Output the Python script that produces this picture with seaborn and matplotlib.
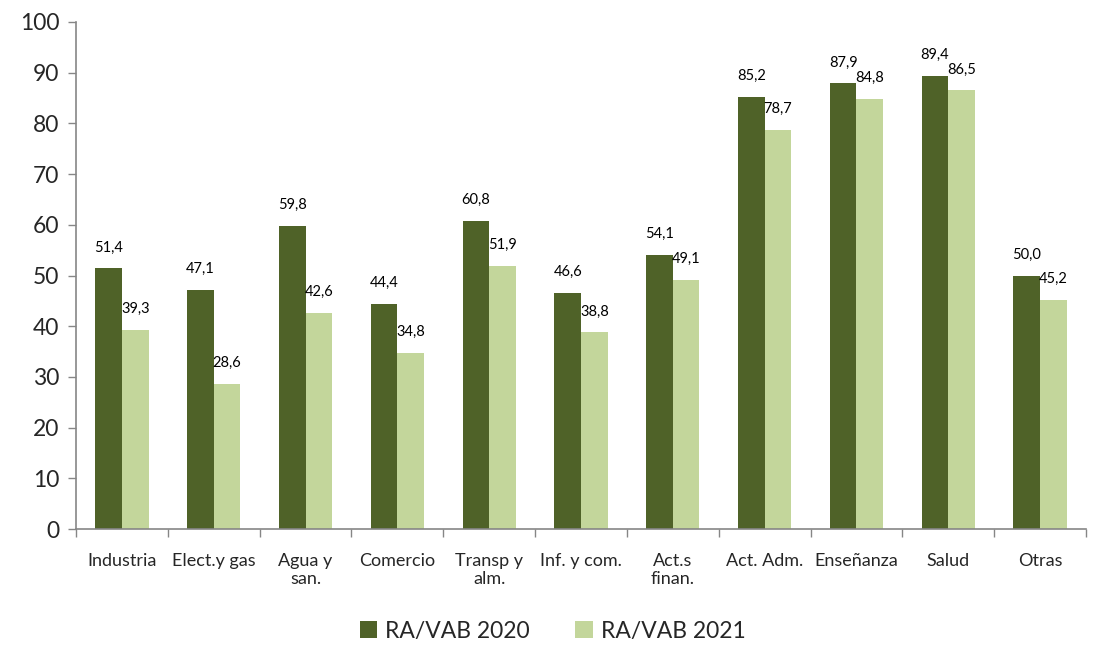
import pandas as pd
import numpy as np
import matplotlib.pyplot as plt
import seaborn as sns

# Sectors and ratios (RA/VAB, %)
sectors = ["Industria", "Elect.y gas", "Agua y\nsan.", "Comercio", "Transp y\nalm.",
           "Inf. y com.", "Act.s\nfinan.", "Act. Adm.", "Enseñanza", "Salud", "Otras"]
ra_vab_2020 = [51.4, 47.1, 59.8, 44.4, 60.8, 46.6, 54.1, 85.2, 87.9, 89.4, 50.0]
ra_vab_2021 = [39.3, 28.6, 42.6, 34.8, 51.9, 38.8, 49.1, 78.7, 84.8, 86.5, 45.2]
series_names = ["RA/VAB 2020", "RA/VAB 2021"]
y_ticks = [0, 10, 20, 30, 40, 50, 60, 70, 80, 90, 100]

df = pd.DataFrame({
    "sector": sectors * 2,
    "serie": [series_names[0]] * len(sectors) + [series_names[1]] * len(sectors),
    "valor": ra_vab_2020 + ra_vab_2021,
})

sns.set_style("white")
plt.rcParams['font.family'] = ['Lato', 'DejaVu Sans']

fig = plt.figure(figsize=(11.05, 6.46), dpi=100)
ax = fig.add_axes([0.0688, 0.181, 0.914, 0.785])

palette = {series_names[0]: "#4F6228", series_names[1]: "#C3D69B"}
sns.barplot(data=df, x="sector", y="valor", hue="serie", palette=palette,
            width=0.58, saturation=1, linewidth=0, ax=ax, legend=True)

# value labels with comma decimal
for cont in ax.containers:
    labels = [f"{b.get_height():.1f}".replace(".", ",") for b in cont]
    ax.bar_label(cont, labels=labels, padding=10, fontsize=10.5, color="#000000")

ax.set_ylim(0, 100)
ax.set_xlim(-0.5, len(sectors) - 0.5)
ax.set_yticks(y_ticks)
ax.tick_params(axis="y", labelsize=16.5, length=6, width=1, color="#868686", left=True, pad=6)
# ticks between categories on x axis
ax.set_xticks(np.arange(len(sectors)))
ax.set_xticklabels(sectors, fontsize=13, linespacing=1.15)
ax.tick_params(axis="x", length=0, pad=17)
ax.set_xticks(np.arange(-0.5, len(sectors), 1), minor=True)
ax.tick_params(axis="x", which="minor", length=6, width=1, color="#868686", bottom=True)
ax.set_xlabel("")
ax.set_ylabel("")

for s in ["top", "right"]:
    ax.spines[s].set_visible(False)
for s in ["left", "bottom"]:
    ax.spines[s].set_color("#868686")
    ax.spines[s].set_linewidth(1.2)

handles, lbls = ax.get_legend_handles_labels()
ax.legend_.remove()
fig.legend(handles, lbls, loc="lower center", bbox_to_anchor=(0.5, -0.025), ncol=2,
           frameon=False, fontsize=16.5, handlelength=0.75, handleheight=0.75,
           handletextpad=0.35, columnspacing=2.0)

fig.savefig("out.png", dpi=100)
